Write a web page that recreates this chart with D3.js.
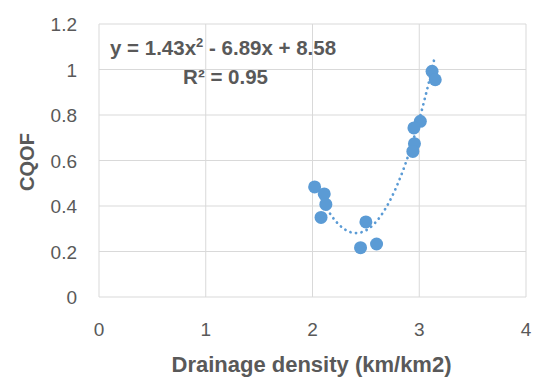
<!DOCTYPE html>
<html>
<head>
<meta charset="utf-8">
<script src="https://cdn.jsdelivr.net/npm/d3@7"></script>
<style>
  body { margin: 0; background: #fff; }
  text { font-family: "Liberation Sans", Arial, sans-serif; fill: #595959; }
</style>
</head>
<body>
<svg id="svg"></svg>
<script>
"use strict";

// data
var density = [2.02, 2.11, 2.125, 2.08, 2.50, 2.45, 2.60, 3.12, 3.15, 3.01, 2.95, 2.955, 2.94];
var cqof    = [0.484, 0.453, 0.407, 0.35, 0.33, 0.217, 0.233, 0.992, 0.955, 0.772, 0.743, 0.674, 0.64];
var xTicks  = [0, 1, 2, 3, 4];
var yTicks  = [0, 0.2, 0.4, 0.6, 0.8, 1, 1.2];
var trendCoef = [1.43, -6.89, 8.58];   // a, b, c of the displayed fit
var trendRange = [2.02, 3.14];

var width = 534, height = 378,
	margin = {left: 99, right: 8, top: 24, bottom: 81},
	blue = "#5B9BD5",
	grid = "#D9D9D9";

var svg = d3.select("#svg")
	.attr("width", width)
	.attr("height", height);

var x = d3.scaleLinear().domain([0, 4]).range([margin.left, width - margin.right]),
	y = d3.scaleLinear().domain([0, 1.2]).range([height - margin.bottom, margin.top]);

// gridlines
svg.append("g").selectAll("line")
	.data(yTicks).enter().append("line")
	.attr("x1", x(0)).attr("x2", x(4))
	.attr("y1", function(d){return y(d)}).attr("y2", function(d){return y(d)})
	.style("stroke", grid).style("stroke-width", 1);

svg.append("g").selectAll("line")
	.data(xTicks).enter().append("line")
	.attr("y1", y(0)).attr("y2", y(1.2))
	.attr("x1", function(d){return x(d)}).attr("x2", function(d){return x(d)})
	.style("stroke", grid).style("stroke-width", 1);

// tick labels
svg.append("g").selectAll("text")
	.data(yTicks).enter().append("text")
	.attr("x", 77)
	.attr("y", function(d){return y(d) + 7})
	.attr("text-anchor", "end")
	.style("font-size", "19px")
	.text(function(d){return d});

svg.append("g").selectAll("text")
	.data(xTicks).enter().append("text")
	.attr("x", function(d){return x(d)})
	.attr("y", 336)
	.attr("text-anchor", "middle")
	.style("font-size", "19px")
	.text(function(d){return d});

// axis titles
svg.append("text")
	.attr("x", 311.5)
	.attr("y", 372)
	.attr("text-anchor", "middle")
	.style("font-size", "22px")
	.style("font-weight", "bold")
	.text("Drainage density (km/km2)");

svg.append("text")
	.attr("transform", "translate(34,162) rotate(-90)")
	.attr("text-anchor", "middle")
	.style("font-size", "20px")
	.style("font-weight", "bold")
	.text("CQOF");

// trendline
var fx = function(v){ return trendCoef[0]*v*v + trendCoef[1]*v + trendCoef[2]; };
var line = d3.line()
	.x(function(d){return x(d)})
	.y(function(d){return y(fx(d))})
	.curve(d3.curveBasis);

var steps = d3.range(0, 61).map(function(i){ return trendRange[0] + (trendRange[1]-trendRange[0])*i/60; });

svg.append("path")
	.datum(steps)
	.attr("d", line)
	.style("fill", "none")
	.style("stroke", blue)
	.style("stroke-width", 2.75)
	.style("stroke-linecap", "round")
	.style("stroke-dasharray", "0.1 5.5");

// points
svg.append("g").selectAll("circle")
	.data(density.map(function(d, i){ return {x: d, y: cqof[i]}; }))
	.enter().append("circle")
	.attr("cx", function(d){return x(d.x)})
	.attr("cy", function(d){return y(d.y)})
	.attr("r", 6.5)
	.style("fill", blue);

// equation
var eq = svg.append("text")
	.attr("x", 110)
	.attr("y", 55)
	.style("font-size", "20.5px")
	.style("font-weight", "bold");
eq.append("tspan").text("y = 1.43x");
eq.append("tspan").attr("dy", -8).style("font-size", "13px").text("2");
eq.append("tspan").attr("dy", 8).text(" - 6.89x + 8.58");

svg.append("text")
	.attr("x", 268)
	.attr("y", 84)
	.attr("text-anchor", "end")
	.style("font-size", "20.5px")
	.style("font-weight", "bold")
	.text("R² = 0.95");
</script>
</body>
</html>
